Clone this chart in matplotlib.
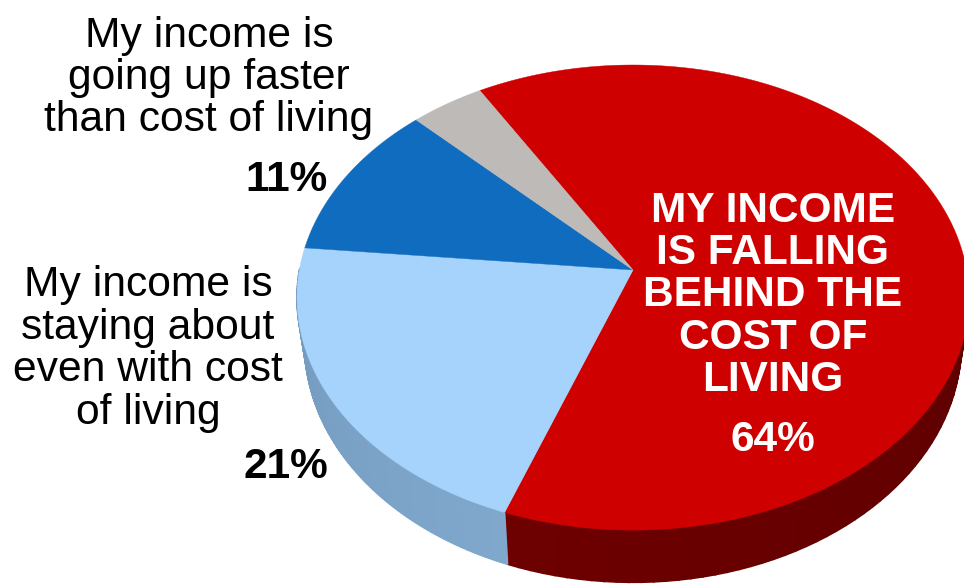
import numpy as np
import matplotlib
matplotlib.use("Agg")
import matplotlib.pyplot as plt

# Chart values, in clockwise order starting at the red / gray edge.
values = [64, 21, 11, 4]
top_colors = ["#CF0000", "#A6D3FB", "#0F6CBF", "#BDBAB8"]
side_start = ["#4A0000", "#7FA8CC", "#0A4C88", "#8A8886"]
side_end = ["#6E0000", "#7399BD", "#0A4C88", "#8A8886"]

upper_label = "My income is\ngoing up faster\nthan cost of living"
lower_label = "My income is\nstaying about\neven with cost\nof living"
red_label = "MY INCOME\nIS FALLING\nBEHIND THE\nCOST OF\nLIVING"
upper_pct = "11%"
lower_pct = "21%"
red_pct = "64%"

# Perspective of the disc, fitted to the picture (pixels).
cx, cy = 633, 270
rx, ry = 333.6, 229.3
persp = -0.1185
depth = 46
start_angle = 239.6


# Projects a point of the unit disc to the page.
def project(x, y, drop=0.0):
    w = 1 + persp * y
    shrink = 1 - 0.023 * drop
    return cx + rx * x / w * shrink, cy + ry * y / w + drop * depth / w


plt.rcParams['font.family'] = ['Liberation Sans', 'DejaVu Sans']
fig = plt.figure(figsize=(9.64, 5.84), dpi=100)
ax = fig.add_axes([0, 0, 1, 1])
ax.set_xlim(0, 964)
ax.set_ylim(584, 0)
ax.axis("off")

edges = start_angle + np.cumsum([0] + values) * 3.6

# Side wall first, only the part facing the viewer, then the top of each slice.
for i in range(len(values)):
    t = np.radians(np.linspace(edges[i], edges[i + 1], 120))
    c0 = np.array(matplotlib.colors.to_rgb(side_start[i]))
    c1 = np.array(matplotlib.colors.to_rgb(side_end[i]))
    for j in range(len(t) - 1):
        if np.sin(t[j]) < 0:
            continue
        a = t[j:j + 2]
        x0, y0 = project(np.cos(a), np.sin(a))
        x1, y1 = project(np.cos(a), np.sin(a), 1.0)
        color = c0 + (c1 - c0) * j / (len(t) - 1)
        ax.fill(np.r_[x0, x1[::-1]], np.r_[y0, y1[::-1]], color=color, lw=1.2)

for i in range(len(values)):
    t = np.radians(np.linspace(edges[i], edges[i + 1], 200))
    x, y = project(np.cos(t), np.sin(t))
    ax.fill(np.r_[cx, x], np.r_[cy, y], color=top_colors[i], lw=0.3)

# Labels.
ax.text(209, 78, upper_label, ha="center", va="center", fontsize=30.7,
        linespacing=1.08, color="black")
ax.text(148, 349, lower_label, ha="center", va="center", fontsize=30.7,
        linespacing=1.08, color="black")
ax.text(286, 180, upper_pct, ha="center", va="center", fontsize=30.5,
        fontweight="bold", color="black")
ax.text(286, 467, lower_pct, ha="center", va="center", fontsize=30.5,
        fontweight="bold", color="black")
ax.text(773, 295.5, red_label, ha="center", va="center", fontsize=30.5,
        fontweight="bold", linespacing=1.08, color="white")
ax.text(773, 440, red_pct, ha="center", va="center", fontsize=30.5,
        fontweight="bold", color="white")

fig.savefig("out.png", dpi=100)
